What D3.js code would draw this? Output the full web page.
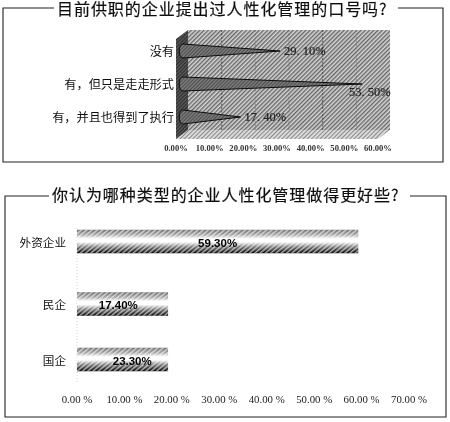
<!DOCTYPE html>
<html>
<head>
<meta charset="utf-8">
<style>
html, body { margin: 0; padding: 0; background: #fff; }
svg { display: block; }
.title { font-family: "Noto Sans CJK SC", sans-serif; font-size: 16px; letter-spacing: 0.95px; fill: #111; stroke: #111; stroke-width: 0.2px; }
.cat { font-family: "Noto Sans CJK SC", sans-serif; font-size: 11.6px; fill: #111; text-anchor: end; }
.tick1 { font-family: "Liberation Serif", serif; font-size: 8.6px; font-weight: bold; fill: #333; text-anchor: middle; }
.tick2 { font-family: "Liberation Serif", serif; font-size: 10.8px; fill: #222; text-anchor: middle; }
.val1 { font-family: "Liberation Serif", serif; font-size: 12.5px; fill: #222; stroke: #222; stroke-width: 0.2px; }
.val2 { font-family: "Liberation Sans", sans-serif; font-size: 11.5px; font-weight: bold; fill: #000; text-anchor: middle; }
</style>
</head>
<body>
<svg width="450" height="422"></svg>
<script src="https://cdn.jsdelivr.net/npm/d3@7"></script>
<script>
// top chart
var title1 = "目前供职的企业提出过人性化管理的口号吗?";
var cats1 = ["没有", "有，但只是走走形式", "有，并且也得到了执行"];
var values1 = [29.1, 53.5, 17.4];
var valueLabels1 = ["29. 10%", "53. 50%", "17. 40%"];
var ticks1 = [0, 10, 20, 30, 40, 50, 60];

// bottom chart
var title2 = "你认为哪种类型的企业人性化管理做得更好些?";
var cats2 = ["外资企业", "民企", "国企"];
var values2 = [59.3, 17.4, 23.3];
// the printed bars stop short of / past their labels, lengths as drawn
var barLengths2 = [59.3, 19.2, 19.2];
var ticks2 = [0, 10, 20, 30, 40, 50, 60, 70];

var svg = d3.select("svg");
var defs = svg.append("defs");

defs.append("filter").attr("id", "scan")
    .attr("filterUnits", "userSpaceOnUse")
    .attr("x", 0).attr("y", 0).attr("width", 450).attr("height", 422)
  .append("feGaussianBlur").attr("stdDeviation", 0.35);

function hatch(id, bg, fg, size, sw) {
  var p = defs.append("pattern").attr("id", id)
      .attr("width", size).attr("height", size)
      .attr("patternUnits", "userSpaceOnUse")
      .attr("patternTransform", "rotate(45)");
  p.append("rect").attr("width", size).attr("height", size).attr("fill", bg);
  p.append("rect").attr("width", sw).attr("height", size).attr("fill", fg);
}
hatch("wall", "#d6d6d6", "#666", 3, 1.4);
hatch("floor", "#dedede", "#8a8a8a", 3, 1.1);
hatch("side", "#5a5a5a", "#2c2c2c", 2.5, 1.1);
hatch("cone", "#7c7c7c", "#4a4a4a", 2.5, 1);

// bar shading: grey band, white middle, black at the foot
var grad = defs.append("linearGradient").attr("id", "barGrad")
    .attr("x1", 0).attr("y1", 0).attr("x2", 0).attr("y2", 1);
[[0, "#707070"], [0.22, "#aaaaaa"], [0.38, "#ffffff"], [0.52, "#ffffff"], [0.72, "#808080"], [1, "#050505"]]
  .forEach(function(s) { grad.append("stop").attr("offset", s[0]).attr("stop-color", s[1]); });
var bh = defs.append("pattern").attr("id", "barHatch")
    .attr("width", 3.4).attr("height", 3.4)
    .attr("patternUnits", "userSpaceOnUse")
    .attr("patternTransform", "rotate(50)");
bh.append("rect").attr("width", 1.4).attr("height", 3.4).attr("fill", "#fff").attr("fill-opacity", 0.6);

var page = svg.append("g").attr("filter", "url(#scan)");

function frame(x0, y0, x1, y1, gapL, gapR) {
  var p = d3.path();
  p.moveTo(gapL, y0); p.lineTo(x0, y0); p.lineTo(x0, y1); p.lineTo(x1, y1);
  p.lineTo(x1, y0); p.lineTo(gapR, y0);
  page.append("path").attr("d", p.toString())
      .attr("fill", "none").attr("stroke", "#222").attr("stroke-width", 1.1);
}

// ---- top chart ----
frame(3, 8, 443, 162, 54, 398);
page.append("text").attr("class", "title").attr("x", 57).attr("y", 15).text(title1);

var xBack = d3.scaleLinear().domain([0, 60]).range([188, 390]);
var xMid = d3.scaleLinear().domain([0, 60]).range([182, 384]);
var xFront = d3.scaleLinear().domain([0, 60]).range([176, 378]);
var y1 = d3.scalePoint().domain(cats1).range([51, 117]);

page.append("polygon").attr("points", "188,30 390,30 390,130 188,130").attr("fill", "url(#wall)");
page.append("polygon").attr("points", "188,130 390,130 378,139 176,139").attr("fill", "url(#floor)");
page.append("polygon").attr("points", "176,39 188,30 188,130 176,139").attr("fill", "url(#side)");

page.selectAll(".grid1").data(ticks1.slice(1, -1)).enter().append("line")
    .attr("x1", function(d) { return xBack(d); })
    .attr("x2", function(d) { return xBack(d); })
    .attr("y1", 30).attr("y2", 130)
    .attr("stroke", function(d) { return d == 10 || d == 40 ? "#333" : "#777"; })
    .attr("stroke-width", 0.7)
    .attr("stroke-dasharray", "2,1.5");

page.selectAll(".cone").data(values1).enter().append("path")
    .attr("d", function(d, i) {
      var cy = y1(cats1[i]), b = xMid(0) + 1, p = d3.path();
      p.moveTo(xMid(d), cy);
      p.lineTo(b, cy - 7);
      p.bezierCurveTo(b - 5, cy - 7, b - 5, cy + 7, b, cy + 7);
      p.closePath();
      return p.toString();
    })
    .attr("fill", "url(#cone)").attr("stroke", "#0c0c0c").attr("stroke-width", 1);

page.selectAll(".cat1").data(cats1).enter().append("text")
    .attr("class", "cat")
    .attr("x", 174)
    .attr("y", function(d) { return y1(d) + 5; })
    .style("font-size", "12.2px")
    .text(function(d) { return d; });

// value labels sit after the tip, except the long one which drops below it
page.selectAll(".val1").data(values1).enter().append("text")
    .attr("class", "val1")
    .attr("x", function(d, i) { return i == 1 ? xMid(d) - 13 : xMid(d) + 4; })
    .attr("y", function(d, i) { return y1(cats1[i]) + (i == 1 ? 12 : 4); })
    .text(function(d, i) { return valueLabels1[i]; });

page.selectAll(".tick1").data(ticks1).enter().append("text")
    .attr("class", "tick1")
    .attr("x", function(d) { return xFront(d); })
    .attr("y", 151)
    .text(function(d) { return d3.format(".2f")(d) + "%"; });

// ---- bottom chart ----
frame(5, 196, 446, 417, 49, 410);
page.append("text").attr("class", "title").attr("x", 52).attr("y", 201).text(title2);

var x2 = d3.scaleLinear().domain([0, 70]).range([77, 409]);
var y2 = d3.scaleOrdinal().domain(cats2).range([241.5, 304, 359.5]);
var barH = 23.5;

page.append("line")
    .attr("x1", x2(0)).attr("x2", x2(0)).attr("y1", 228).attr("y2", 383)
    .attr("stroke", "#bbb").attr("stroke-width", 0.6).attr("stroke-dasharray", "1,2");

[ "url(#barGrad)", "url(#barHatch)" ].forEach(function(fill) {
  page.selectAll(".bar").data(barLengths2, function(d, i) { return fill + i; })
    .enter().append("rect")
      .attr("x", x2(0))
      .attr("y", function(d, i) { return y2(cats2[i]) - barH / 2; })
      .attr("width", function(d) { return x2(d) - x2(0); })
      .attr("height", barH)
      .attr("fill", fill);
});

page.selectAll(".cat2").data(cats2).enter().append("text")
    .attr("class", "cat")
    .attr("x", 66)
    .attr("y", function(d) { return y2(d) + 5; })
    .text(function(d) { return d; });

page.selectAll(".val2").data(values2).enter().append("text")
    .attr("class", "val2")
    .attr("x", function(d) { return x2(d / 2); })
    .attr("y", function(d, i) { return y2(cats2[i]) + 5; })
    .text(function(d) { return d3.format(".2f")(d) + "%"; });

page.selectAll(".tick2").data(ticks2).enter().append("text")
    .attr("class", "tick2")
    .attr("x", function(d) { return x2(d); })
    .attr("y", 403)
    .text(function(d) { return d3.format(".2f")(d) + " %"; });
</script>
</body>
</html>
